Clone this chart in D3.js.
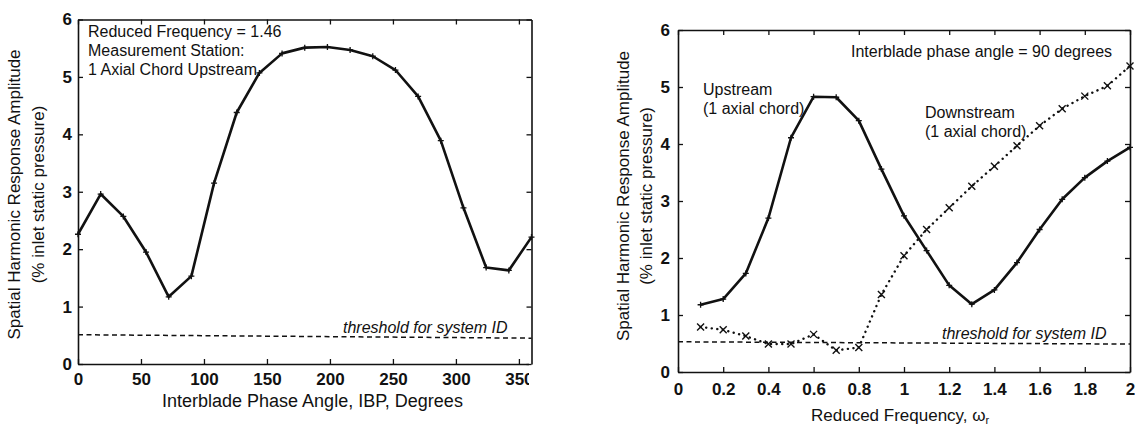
<!DOCTYPE html>
<html>
<head>
<meta charset="utf-8">
<script src="https://cdn.jsdelivr.net/npm/d3@7"></script>
<style>
  html, body { margin: 0; padding: 0; background: #fff; }
  svg { display: block; font-family: "Liberation Sans", Arial, Helvetica, sans-serif; }
</style>
</head>
<body>
<svg id="chart" width="1135" height="429"></svg>
<script>
// ---------- Data ----------
// Left panel: response vs interblade phase angle (reduced frequency 1.46, upstream)
const ibpAngles = [0, 18, 36, 54, 72, 90, 108, 126, 144, 162, 180, 198, 216, 234, 252, 270, 288, 306, 324, 342, 360];
const ibpAmplitude = [2.26, 2.96, 2.57, 1.95, 1.17, 1.53, 3.15, 4.38, 5.07, 5.41, 5.51, 5.52, 5.47, 5.36, 5.12, 4.66, 3.89, 2.72, 1.68, 1.63, 2.21];
const leftXTicks = [0, 50, 100, 150, 200, 250, 300, 350];
const leftYTicks = [0, 1, 2, 3, 4, 5, 6];
const leftThreshold = [[0, 0.51], [360, 0.45]];

// Right panel: response vs reduced frequency (IBP = 90 deg)
const reducedFreq = [0.1, 0.2, 0.3, 0.4, 0.5, 0.6, 0.7, 0.8, 0.9, 1.0, 1.1, 1.2, 1.3, 1.4, 1.5, 1.6, 1.7, 1.8, 1.9, 2.0];
const upstreamAmp = [1.18, 1.28, 1.73, 2.70, 4.11, 4.83, 4.82, 4.41, 3.56, 2.74, 2.13, 1.52, 1.19, 1.44, 1.92, 2.50, 3.03, 3.41, 3.70, 3.94];
const downstreamAmp = [0.79, 0.74, 0.63, 0.49, 0.49, 0.66, 0.38, 0.43, 1.36, 2.04, 2.50, 2.88, 3.26, 3.61, 3.97, 4.32, 4.62, 4.84, 5.02, 5.37];
const rightXTicks = [0, 0.2, 0.4, 0.6, 0.8, 1, 1.2, 1.4, 1.6, 1.8, 2];
const rightYTicks = [0, 1, 2, 3, 4, 5, 6];
const rightThreshold = [[0, 0.53], [2, 0.49]];

// ---------- Drawing ----------
const svg = d3.select("#chart");
const INK = "#111";
const FONT = '"Liberation Sans", Arial, Helvetica, sans-serif';

function panel(opt) {
  const x = d3.scaleLinear().domain(opt.xDomain).range([opt.x0, opt.x1]);
  const y = d3.scaleLinear().domain([0, 6]).range([opt.y0, opt.y1]);
  const g = svg.append("g");

  const styleAxis = (sel) => {
    sel.select(".domain").attr("stroke", INK).attr("stroke-width", 1.6);
    sel.selectAll(".tick line").attr("stroke", INK).attr("stroke-width", 1.3);
    sel.selectAll(".tick text").attr("fill", INK).attr("font-family", FONT)
      .attr("font-size", 17).attr("font-weight", "bold");
  };

  const bottom = g.append("g").attr("transform", `translate(0,${opt.y0})`)
    .call(d3.axisBottom(x).tickValues(opt.xTicks).tickSizeInner(-5).tickSizeOuter(0)
      .tickPadding(opt.xPad).tickFormat(opt.xFmt));
  styleAxis(bottom);
  if (opt.clipX) {
    // the scanned figure is cropped just right of the frame, cutting the last label
    const id = "clipbot";
    svg.append("clipPath").attr("id", id).append("rect")
      .attr("x", -50).attr("y", -20).attr("width", opt.clipX + 50).attr("height", 60);
    bottom.attr("clip-path", `url(#${id})`);
  }
  const top = g.append("g").attr("transform", `translate(0,${opt.y1})`)
    .call(d3.axisTop(x).tickValues(opt.xTicks).tickSizeInner(-5).tickSizeOuter(0).tickFormat(""));
  styleAxis(top);
  const left = g.append("g").attr("transform", `translate(${opt.x0},0)`)
    .call(d3.axisLeft(y).tickValues(opt.yTicks).tickSizeInner(-5).tickSizeOuter(0)
      .tickPadding(opt.yPad).tickFormat(d3.format("d")));
  styleAxis(left);
  const right = g.append("g").attr("transform", `translate(${opt.x1},0)`)
    .call(d3.axisRight(y).tickValues(opt.yTicks).tickSizeInner(-5).tickSizeOuter(0).tickFormat(""));
  styleAxis(right);

  // threshold line
  g.append("path").datum(opt.threshold)
    .attr("d", d3.line().x(d => x(d[0])).y(d => y(d[1])))
    .attr("fill", "none").attr("stroke", INK).attr("stroke-width", 1.5)
    .attr("stroke-dasharray", "5,3.5");

  // y-axis title (two lines)
  const yt = g.append("g").attr("font-family", FONT).attr("font-size", 17).attr("fill", INK);
  yt.append("text").attr("transform", `translate(${opt.yTitleX[0]},${opt.yTitleY}) rotate(-90)`)
    .attr("text-anchor", "middle").text("Spatial Harmonic Response Amplitude");
  yt.append("text").attr("transform", `translate(${opt.yTitleX[1]},${opt.yTitleY}) rotate(-90)`)
    .attr("text-anchor", "middle").text("(% inlet static pressure)");

  return { g, x, y };
}

function plus(g, pts, size) {
  g.append("g").selectAll("path").data(pts).join("path")
    .attr("d", d => `M${d[0]-size},${d[1]}H${d[0]+size}M${d[0]},${d[1]-size}V${d[1]+size}`)
    .attr("stroke", INK).attr("stroke-width", 1.3).attr("fill", "none");
}
function cross(g, pts, size) {
  g.append("g").selectAll("path").data(pts).join("path")
    .attr("d", d => `M${d[0]-size},${d[1]-size}L${d[0]+size},${d[1]+size}M${d[0]-size},${d[1]+size}L${d[0]+size},${d[1]-size}`)
    .attr("stroke", INK).attr("stroke-width", 1.4).attr("fill", "none");
}

// ----- Left panel -----
const L = panel({
  xDomain: [0, 360], x0: 78, x1: 531.5, y0: 364, y1: 19.5,
  xTicks: leftXTicks, yTicks: leftYTicks, xFmt: d3.format("d"),
  xPad: 9, yPad: 6, clipX: 529,
  threshold: leftThreshold, yTitleX: [20, 44], yTitleY: 194.5
});
{
  const pts = ibpAngles.map((a, i) => [L.x(a), L.y(ibpAmplitude[i])]);
  L.g.append("path").datum(pts).attr("d", d3.line())
    .attr("fill", "none").attr("stroke", INK).attr("stroke-width", 2.6).attr("stroke-linejoin", "round");
  plus(L.g, pts, 3);

  const ann = L.g.append("g").attr("font-family", FONT).attr("font-size", 16).attr("fill", INK);
  ann.append("text").attr("x", 88).attr("y", 37).text("Reduced Frequency = 1.46");
  ann.append("text").attr("x", 88).attr("y", 56).text("Measurement Station:");
  ann.append("text").attr("x", 88).attr("y", 75).text("1 Axial Chord Upstream");
  ann.append("text").attr("x", 343).attr("y", 333).attr("font-style", "italic").text("threshold for system ID");

  L.g.append("text").attr("x", 162).attr("y", 407).attr("font-family", FONT).attr("font-size", 18)
    .attr("fill", INK).text("Interblade Phase Angle, IBP, Degrees");
}

// ----- Right panel -----
const R = panel({
  xDomain: [0, 2], x0: 678, x1: 1130, y0: 372, y1: 30,
  xTicks: rightXTicks, yTicks: rightYTicks, xFmt: d => (d === 0 || d === 1 || d === 2) ? d3.format("d")(d) : d3.format(".1f")(d),
  xPad: 10.5, yPad: 8,
  threshold: rightThreshold, yTitleX: [629, 652], yTitleY: 196
});
{
  const up = reducedFreq.map((f, i) => [R.x(f), R.y(upstreamAmp[i])]);
  R.g.append("path").datum(up).attr("d", d3.line())
    .attr("fill", "none").attr("stroke", INK).attr("stroke-width", 2.6).attr("stroke-linejoin", "round");
  plus(R.g, up, 3);

  const dn = reducedFreq.map((f, i) => [R.x(f), R.y(downstreamAmp[i])]);
  R.g.append("path").datum(dn).attr("d", d3.line())
    .attr("fill", "none").attr("stroke", INK).attr("stroke-width", 2.4)
    .attr("stroke-linecap", "round").attr("stroke-dasharray", "0.1,5.5");
  cross(R.g, dn, 3.5);

  const ann = R.g.append("g").attr("font-family", FONT).attr("font-size", 16).attr("fill", INK);
  ann.append("text").attr("x", 851).attr("y", 57).text("Interblade phase angle = 90 degrees");
  ann.append("text").attr("x", 703).attr("y", 95).text("Upstream");
  ann.append("text").attr("x", 703).attr("y", 114).text("(1 axial chord)");
  ann.append("text").attr("x", 925).attr("y", 118).text("Downstream");
  ann.append("text").attr("x", 925).attr("y", 137).text("(1 axial chord)");
  ann.append("text").attr("x", 942).attr("y", 339).attr("font-style", "italic").text("threshold for system ID");

  const t = R.g.append("text").attr("x", 811).attr("y", 421).attr("font-family", FONT)
    .attr("font-size", 17).attr("fill", INK);
  t.append("tspan").text("Reduced Frequency, ω");
  t.append("tspan").attr("font-size", 11).attr("dy", 3).text("r");
}
</script>
</body>
</html>
